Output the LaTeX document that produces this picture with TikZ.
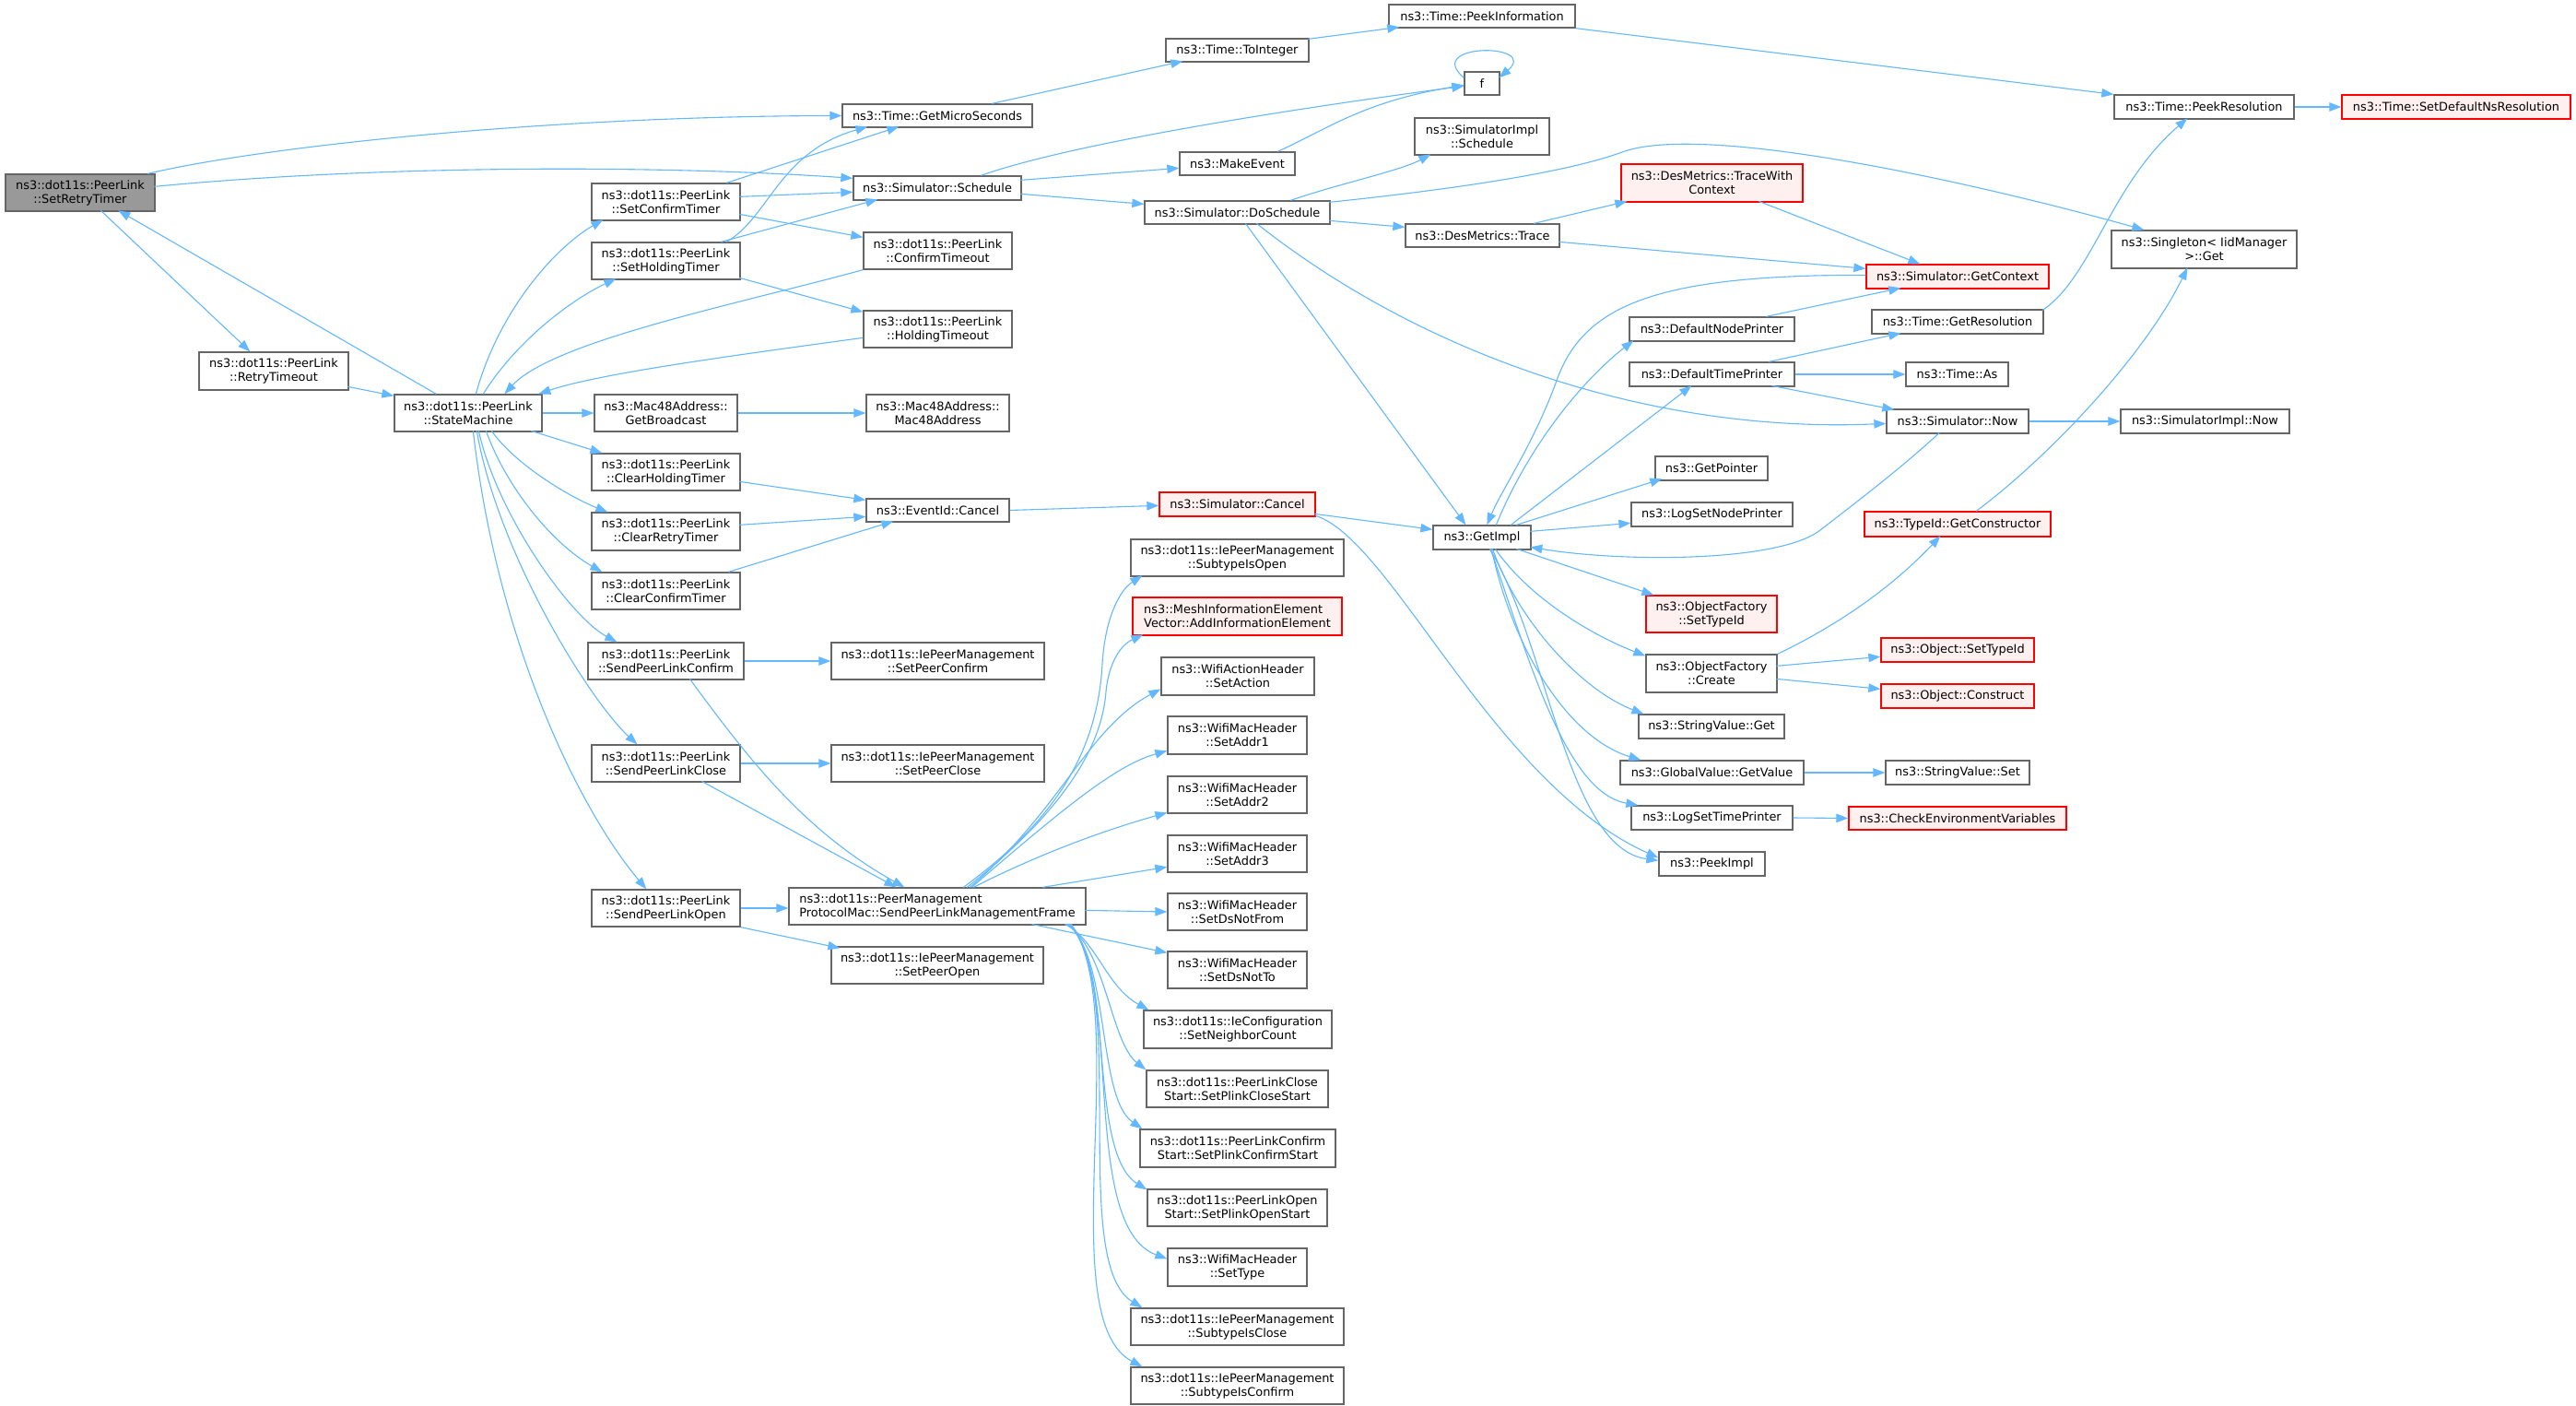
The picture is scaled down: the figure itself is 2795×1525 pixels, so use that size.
\documentclass[tikz,border=0pt]{standalone}
\usepackage{fontspec}
\setmainfont{DejaVu Sans}
\usetikzlibrary{arrows.meta}
\definecolor{edgec}{HTML}{63B8FF}
\definecolor{bord}{HTML}{666666}
\definecolor{redfill}{HTML}{FFF0F0}
\definecolor{rootfill}{HTML}{999999}
\newcommand\nodefont{\fontsize{12.9}{15}\selectfont}
\newcommand\mkbox[7][nb]{\node[#1,minimum width={#5-#3},minimum height={#6-#4}] (#2) at ({(#3+#5)/2},{(#4+#6)/2}) {#7};}
\tikzset{
  nb/.style={draw=bord, fill=white, line width=1.3pt, inner sep=0pt, align=center, font=\nodefont},
  nbl/.style={nb, align=left},
  rb/.style={nb, draw=red, fill=redfill},
  rbl/.style={rb, align=left},
  gb/.style={nb, fill=rootfill},
  cn/.style={draw=edgec, line width=1.1pt, -{Triangle[length=13pt,width=9.5pt]}},
}
\begin{document}
\begin{tikzpicture}[x=1pt,y=-1pt]
\path[use as bounding box, fill=white] (0,0) rectangle (2795,1525);
% column 0-1
\mkbox[gb]{root}{6}{189}{168}{229}{ns3::dot11s::PeerLink\\::SetRetryTimer}
\mkbox{rto}{216}{382}{378}{423}{ns3::dot11s::PeerLink\\::RetryTimeout}
\mkbox{sm}{428}{428}{588}{468}{ns3::dot11s::PeerLink\\::StateMachine}
% column 2
\mkbox{sct}{642}{199}{803}{239}{ns3::dot11s::PeerLink\\::SetConfirmTimer}
\mkbox{sht}{642}{263}{803}{303}{ns3::dot11s::PeerLink\\::SetHoldingTimer}
\mkbox{gbc}{645}{428}{800}{468}{ns3::Mac48Address::\\GetBroadcast}
\mkbox{cht}{642}{492}{803}{532}{ns3::dot11s::PeerLink\\::ClearHoldingTimer}
\mkbox{crt}{642}{556}{803}{597}{ns3::dot11s::PeerLink\\::ClearRetryTimer}
\mkbox{cct}{642}{621}{803}{661}{ns3::dot11s::PeerLink\\::ClearConfirmTimer}
\mkbox{splc}{638}{697}{807}{737}{ns3::dot11s::PeerLink\\::SendPeerLinkConfirm}
\mkbox{splcl}{642}{808}{803}{848}{ns3::dot11s::PeerLink\\::SendPeerLinkClose}
\mkbox{splo}{642}{965}{803}{1005}{ns3::dot11s::PeerLink\\::SendPeerLinkOpen}
% column 3
\mkbox{gms}{914}{113}{1120}{138}{ns3::Time::GetMicroSeconds}
\mkbox{sch}{926}{191}{1108}{217}{ns3::Simulator::Schedule}
\mkbox{cto}{937}{252}{1098}{292}{ns3::dot11s::PeerLink\\::ConfirmTimeout}
\mkbox{hto}{937}{337}{1098}{377}{ns3::dot11s::PeerLink\\::HoldingTimeout}
\mkbox{mac}{940}{428}{1095}{468}{ns3::Mac48Address::\\Mac48Address}
\mkbox{eic}{940}{541}{1095}{566}{ns3::EventId::Cancel}
\mkbox{spc}{902}{697}{1133}{737}{ns3::dot11s::IePeerManagement\\::SetPeerConfirm}
\mkbox{spcl}{902}{808}{1133}{848}{ns3::dot11s::IePeerManagement\\::SetPeerClose}
\mkbox[nbl]{splmf}{856}{963}{1178}{1003}{ns3::dot11s::PeerManagement\\ProtocolMac::SendPeerLinkManagementFrame}
\mkbox{spo}{902}{1027}{1132}{1067}{ns3::dot11s::IePeerManagement\\::SetPeerOpen}
% column 4
\mkbox{toi}{1265}{42}{1420}{67}{ns3::Time::ToInteger}
\mkbox{mev}{1280}{165}{1405}{190}{ns3::MakeEvent}
\mkbox{dos}{1242}{218}{1443}{243}{ns3::Simulator::DoSchedule}
\mkbox[rb]{sca}{1258}{534}{1427}{560}{ns3::Simulator::Cancel}
\mkbox{sio}{1227}{585}{1458}{625}{ns3::dot11s::IePeerManagement\\::SubtypeIsOpen}
\mkbox[rbl]{aie}{1229}{648}{1456}{689}{ns3::MeshInformationElement\\Vector::AddInformationElement}
\mkbox{sac}{1260}{713}{1426}{754}{ns3::WifiActionHeader\\::SetAction}
\mkbox{sa1}{1267}{777}{1418}{818}{ns3::WifiMacHeader\\::SetAddr1}
\mkbox{sa2}{1267}{842}{1418}{882}{ns3::WifiMacHeader\\::SetAddr2}
\mkbox{sa3}{1267}{906}{1418}{946}{ns3::WifiMacHeader\\::SetAddr3}
\mkbox{sdf}{1267}{969}{1418}{1009}{ns3::WifiMacHeader\\::SetDsNotFrom}
\mkbox{sdt}{1267}{1032}{1418}{1072}{ns3::WifiMacHeader\\::SetDsNotTo}
\mkbox{snc}{1241}{1096}{1445}{1137}{ns3::dot11s::IeConfiguration\\::SetNeighborCount}
\mkbox{spcs}{1244}{1161}{1441}{1201}{ns3::dot11s::PeerLinkClose\\Start::SetPlinkCloseStart}
\mkbox{spcf}{1237}{1225}{1449}{1266}{ns3::dot11s::PeerLinkConfirm\\Start::SetPlinkConfirmStart}
\mkbox{spos}{1245}{1290}{1440}{1330}{ns3::dot11s::PeerLinkOpen\\Start::SetPlinkOpenStart}
\mkbox{sty}{1267}{1354}{1418}{1395}{ns3::WifiMacHeader\\::SetType}
\mkbox{sic}{1227}{1419}{1458}{1459}{ns3::dot11s::IePeerManagement\\::SubtypeIsClose}
\mkbox{sicf}{1227}{1483}{1458}{1523}{ns3::dot11s::IePeerManagement\\::SubtypeIsConfirm}
% column 5
\mkbox{pinf}{1507}{5}{1709}{30}{ns3::Time::PeekInformation}
\mkbox{f}{1589}{78}{1627}{103}{f}
\mkbox{sis}{1535}{128}{1681}{168}{ns3::SimulatorImpl\\::Schedule}
\mkbox{dtr}{1525}{243}{1692}{268}{ns3::DesMetrics::Trace}
\mkbox{gim}{1555}{570}{1661}{596}{ns3::GetImpl}
% column 6
\mkbox[rb]{twc}{1759}{178}{1956}{219}{ns3::DesMetrics::TraceWith\\Context}
\mkbox{dnp}{1768}{344}{1947}{370}{ns3::DefaultNodePrinter}
\mkbox{dtp}{1768}{393}{1947}{419}{ns3::DefaultTimePrinter}
\mkbox{gptr}{1796}{495}{1918}{521}{ns3::GetPointer}
\mkbox{lsnp}{1770}{545}{1945}{571}{ns3::LogSetNodePrinter}
\mkbox[rb]{ofst}{1786}{646}{1928}{686}{ns3::ObjectFactory\\::SetTypeId}
\mkbox{ofc}{1786}{710}{1928}{751}{ns3::ObjectFactory\\::Create}
\mkbox{svg}{1778}{775}{1936}{801}{ns3::StringValue::Get}
\mkbox{gvgv}{1758}{825}{1957}{851}{ns3::GlobalValue::GetValue}
\mkbox{lstp}{1770}{874}{1945}{900}{ns3::LogSetTimePrinter}
\mkbox{pimpl}{1800}{924}{1915}{950}{ns3::PeekImpl}
% column 7
\mkbox[rb]{gctx}{2025}{287}{2223}{313}{ns3::Simulator::GetContext}
\mkbox{gres}{2031}{336}{2217}{362}{ns3::Time::GetResolution}
\mkbox{tas}{2068}{393}{2179}{419}{ns3::Time::As}
\mkbox{snow}{2047}{444}{2201}{470}{ns3::Simulator::Now}
\mkbox[rb]{gcon}{2023}{555}{2225}{582}{ns3::TypeId::GetConstructor}
\mkbox[rb]{ost}{2041}{692}{2207}{718}{ns3::Object::SetTypeId}
\mkbox[rb]{ocon}{2041}{742}{2207}{768}{ns3::Object::Construct}
\mkbox{svs}{2046}{825}{2202}{851}{ns3::StringValue::Set}
\mkbox[rb]{cev}{2006}{875}{2242}{900}{ns3::CheckEnvironmentVariables}
% column 8
\mkbox{pres}{2294}{103}{2489}{129}{ns3::Time::PeekResolution}
\mkbox[rb]{sdnr}{2541}{103}{2789}{129}{ns3::Time::SetDefaultNsResolution}
\mkbox{sgl}{2291}{250}{2492}{291}{ns3::Singleton< IidManager\\ >::Get}
\mkbox{sinow}{2301}{444}{2484}{470}{ns3::SimulatorImpl::Now}

% ---------------- edges ----------------
\draw[cn] ([shift={(155,0)}]root.north west) .. controls (290,158) and (600,126) .. (gms.west);
\draw[cn] ([shift={(162,14)}]root.north west) .. controls (400,180) and (700,178) .. ([shift={(0,3)}]sch.north west);
\draw[cn] ([shift={(104,40)}]root.north west) -- ([shift={(56,0)}]rto.north west);
\draw[cn] ([shift={(46,0)}]sm.north west) -- ([shift={(123,40)}]root.north west);
\draw[cn] ([shift={(162,38)}]rto.north west) -- ([shift={(0,2)}]sm.north west);
\draw[cn] ([shift={(89,0)}]sm.north west) .. controls (540,340) and (600,270) .. ([shift={(13,40)}]sct.north west);
\draw[cn] ([shift={(97,0)}]sm.north west) .. controls (560,370) and (620,325) .. ([shift={(27,40)}]sht.north west);
\draw[cn] (cto.south west) .. controls (800,330) and (600,370) .. ([shift={(120,0)}]sm.north west);
\draw[cn] ([shift={(0,30)}]hto.north west) .. controls (800,385) and (650,405) .. ([shift={(157,0)}]sm.north west);
\draw[cn] (sm.east) -- (gbc.west);
\draw[cn] ([shift={(149,40)}]sm.north west) -- ([shift={(12,0)}]cht.north west);
\draw[cn] ([shift={(106,40)}]sm.north west) .. controls (560,505) and (620,540) .. ([shift={(18,0)}]crt.north west);
\draw[cn] ([shift={(100,40)}]sm.north west) .. controls (550,530) and (600,590) .. ([shift={(12,0)}]cct.north west);
\draw[cn] ([shift={(92,40)}]sm.north west) .. controls (540,560) and (620,670) .. ([shift={(32,0)}]splc.north west);
\draw[cn] ([shift={(90,40)}]sm.north west) .. controls (540,600) and (640,760) .. ([shift={(50,0)}]splcl.north west);
\draw[cn] ([shift={(86,40)}]sm.north west) .. controls (540,700) and (630,880) .. ([shift={(60,0)}]splo.north west);
\draw[cn] ([shift={(147,0)}]sct.north west) -- ([shift={(62,25)}]gms.north west);
\draw[cn] ([shift={(147,0)}]sht.north west) .. controls (835,235) and (845,165) .. ([shift={(28,25)}]gms.north west);
\draw[cn] ([shift={(161,15)}]sct.north west) -- ([shift={(0,18)}]sch.north west);
\draw[cn] ([shift={(141,0)}]sht.north west) -- ([shift={(27,26)}]sch.north west);
\draw[cn] ([shift={(161,34)}]sct.north west) -- ([shift={(0,6)}]cto.north west);
\draw[cn] ([shift={(161,39)}]sht.north west) -- ([shift={(0,2)}]hto.north west);
\draw[cn] (gbc.east) -- (mac.west);
\draw[cn] ([shift={(161,31)}]cht.north west) -- ([shift={(0,2)}]eic.north west);
\draw[cn] ([shift={(161,14)}]crt.north west) -- ([shift={(0,20)}]eic.north west);
\draw[cn] ([shift={(149,0)}]cct.north west) -- ([shift={(30,25)}]eic.north west);
\draw[cn] (splc.east) -- (spc.west);
\draw[cn] ([shift={(111,40)}]splc.north west) .. controls (810,820) and (870,900) .. ([shift={(126,0)}]splmf.north west);
\draw[cn] (splcl.east) -- (spcl.west);
\draw[cn] ([shift={(120,40)}]splcl.north west) -- ([shift={(117,0)}]splmf.north west);
\draw[cn] (splo.east) -- (splo.east -| splmf.west);
\draw[cn] (splo.south east) -- ([shift={(10,2)}]spo.north west);
\draw[cn] ([shift={(163,0)}]gms.north west) -- ([shift={(19,25)}]toi.north west);
\draw[cn] ([shift={(155,1)}]toi.north west) -- ([shift={(12,25)}]pinf.north west);
\draw[cn] (pinf.south east) -- (pres.north west);
\draw[cn] (pres.east) -- (sdnr.west);
\draw[cn] ([shift={(139,0)}]sch.north west) .. controls (1150,160) and (1350,125) .. ([shift={(0,16)}]f.north west);
\draw[cn] ([shift={(182,5)}]sch.north west) -- ([shift={(0,18)}]mev.north west);
\draw[cn] ([shift={(182,20)}]sch.north west) -- ([shift={(0,4)}]dos.north west);
\draw[cn] ([shift={(107,0)}]mev.north west) .. controls (1440,140) and (1480,110) .. ([shift={(0,15)}]f.north west);
\draw[cn] ([shift={(0,7)}]f.north west) .. controls +(-45,-38) and +(45,-38) .. ([shift={(38,7)}]f.north west);
\draw[cn] ([shift={(159,0)}]dos.north west) .. controls (1450,200) and (1520,185) .. ([shift={(18,40)}]sis.north west);
\draw[cn] ([shift={(201,2)}]dos.north west) .. controls (1580,205) and (1700,187) .. (1760,165) .. controls (1850,132) and (2150,200) .. ([shift={(36,0)}]sgl.north west);
\draw[cn] ([shift={(201,22)}]dos.north west) -- ([shift={(0,4)}]dtr.north west);
\draw[cn] ([shift={(110,25)}]dos.north west) -- ([shift={(36,0)}]gim.north west);
\draw[cn] ([shift={(122,25)}]dos.north west) .. controls (1550,390) and (1800,470) .. ([shift={(0,16)}]snow.north west);
\draw[cn] ([shift={(140,0)}]dtr.north west) -- ([shift={(7,41)}]twc.north west);
\draw[cn] ([shift={(167,20)}]dtr.north west) -- ([shift={(0,5)}]gctx.north west);
\draw[cn] ([shift={(150,41)}]twc.north west) -- ([shift={(59,0)}]gctx.north west);
\draw[cn] ([shift={(0,12)}]gctx.north west) .. controls (1800,298) and (1720,330) .. (1690,410) .. controls (1665,480) and (1630,530) .. ([shift={(59,0)}]gim.north west);
\draw[cn] ([shift={(149,0)}]dnp.north west) -- ([shift={(38,26)}]gctx.north west);
\draw[cn] ([shift={(69,0)}]gim.north west) .. controls (1660,480) and (1720,410) .. ([shift={(5,26)}]dnp.north west);
\draw[cn] ([shift={(85,0)}]gim.north west) -- ([shift={(68,26)}]dtp.north west);
\draw[cn] ([shift={(152,0)}]dtp.north west) -- ([shift={(32,26)}]gres.north west);
\draw[cn] (dtp.east) -- (tas.west);
\draw[cn] ([shift={(155,26)}]dtp.north west) -- ([shift={(9,1)}]snow.north west);
\draw[cn] ([shift={(186,1)}]gres.north west) .. controls (2270,300) and (2290,200) .. ([shift={(80,26)}]pres.north west);
\draw[cn] (snow.east) -- (sinow.west);
\draw[cn] ([shift={(58,26)}]snow.north west) .. controls (2060,510) and (2020,540) .. (1975,575) .. controls (1930,610) and (1760,610) .. ([shift={(106,24)}]gim.north west);
\draw[cn] ([shift={(169,24)}]sca.north west) -- ([shift={(0,5)}]gim.north west);
\draw[cn] ([shift={(170,26)}]sca.north west) .. controls (1510,585) and (1620,850) .. ([shift={(0,7)}]pimpl.north west);
\draw[cn] (eic.east) -- ([shift={(0,15)}]sca.north west);
\draw[cn] ([shift={(91,0)}]gim.north west) -- ([shift={(8,25)}]gptr.north west);
\draw[cn] ([shift={(106,7)}]gim.north west) -- ([shift={(0,23)}]lsnp.north west);
\draw[cn] ([shift={(91,26)}]gim.north west) -- ([shift={(9,0)}]ofst.north west);
\draw[cn] ([shift={(68,26)}]gim.north west) .. controls (1660,650) and (1730,690) .. ([shift={(0,2)}]ofc.north west);
\draw[cn] ([shift={(65,26)}]gim.north west) .. controls (1650,680) and (1720,750) .. ([shift={(6,0)}]svg.north west);
\draw[cn] ([shift={(64,26)}]gim.north west) .. controls (1640,700) and (1700,800) .. ([shift={(23,0)}]gvgv.north west);
\draw[cn] ([shift={(63,26)}]gim.north west) .. controls (1660,720) and (1700,860) .. ([shift={(8,0)}]lstp.north west);
\draw[cn] ([shift={(62,26)}]gim.north west) .. controls (1680,700) and (1700,920) .. ([shift={(0,10)}]pimpl.north west);
\draw[cn] ([shift={(122,0)}]gcon.north west) .. controls (2230,490) and (2330,380) .. ([shift={(83,41)}]sgl.north west);
\draw[cn] (ofc.north east) .. controls (1990,680) and (2050,640) .. ([shift={(83,27)}]gcon.north west);
\draw[cn] ([shift={(142,13)}]ofc.north west) -- ([shift={(0,21)}]ost.north west);
\draw[cn] ([shift={(142,27)}]ofc.north west) -- ([shift={(0,6)}]ocon.north west);
\draw[cn] (gvgv.east) -- (svs.west);
\draw[cn] (lstp.east) -- (cev.west);
% SendPeerLinkManagementFrame fan
\draw[cn] ([shift={(190,0)}]splmf.north west) .. controls (1130,900) and (1190,830) .. (1196,720) .. controls (1199,670) and (1215,640) .. ([shift={(13,40)}]sio.north west);
\draw[cn] ([shift={(194,0)}]splmf.north west) .. controls (1140,890) and (1195,820) .. (1200,750) .. controls (1203,720) and (1215,700) .. ([shift={(12,41)}]aie.north west);
\draw[cn] ([shift={(197,0)}]splmf.north west) .. controls (1150,880) and (1180,790) .. ([shift={(0,35)}]sac.north west);
\draw[cn] ([shift={(199,0)}]splmf.north west) .. controls (1150,880) and (1210,830) .. ([shift={(0,38)}]sa1.north west);
\draw[cn] ([shift={(201,0)}]splmf.north west) .. controls (1130,925) and (1200,900) .. ([shift={(0,40)}]sa2.north west);
\draw[cn] ([shift={(276,0)}]splmf.north west) -- ([shift={(0,35)}]sa3.north west);
\draw[cn] ([shift={(322,25)}]splmf.north west) -- (sdf.west);
\draw[cn] ([shift={(264,40)}]splmf.north west) -- ([shift={(0,2)}]sdt.north west);
\draw[cn] ([shift={(300,40)}]splmf.north west) .. controls (1190,1020) and (1200,1070) .. ([shift={(6,0)}]snc.north west);
\draw[cn] ([shift={(302,40)}]splmf.north west) .. controls (1200,1030) and (1205,1130) .. (spcs.north west);
\draw[cn] ([shift={(303,40)}]splmf.north west) .. controls (1205,1040) and (1190,1190) .. ([shift={(3,0)}]spcf.north west);
\draw[cn] ([shift={(304,40)}]splmf.north west) .. controls (1210,1050) and (1180,1250) .. ([shift={(0,1)}]spos.north west);
\draw[cn] ([shift={(305,40)}]splmf.north west) .. controls (1220,1060) and (1170,1330) .. ([shift={(0,12)}]sty.north west);
\draw[cn] ([shift={(306,40)}]splmf.north west) .. controls (1225,1080) and (1160,1370) .. ([shift={(13,0)}]sic.north west);
\draw[cn] ([shift={(307,40)}]splmf.north west) .. controls (1230,1100) and (1140,1430) .. ([shift={(13,0)}]sicf.north west);
\end{tikzpicture}
\end{document}
